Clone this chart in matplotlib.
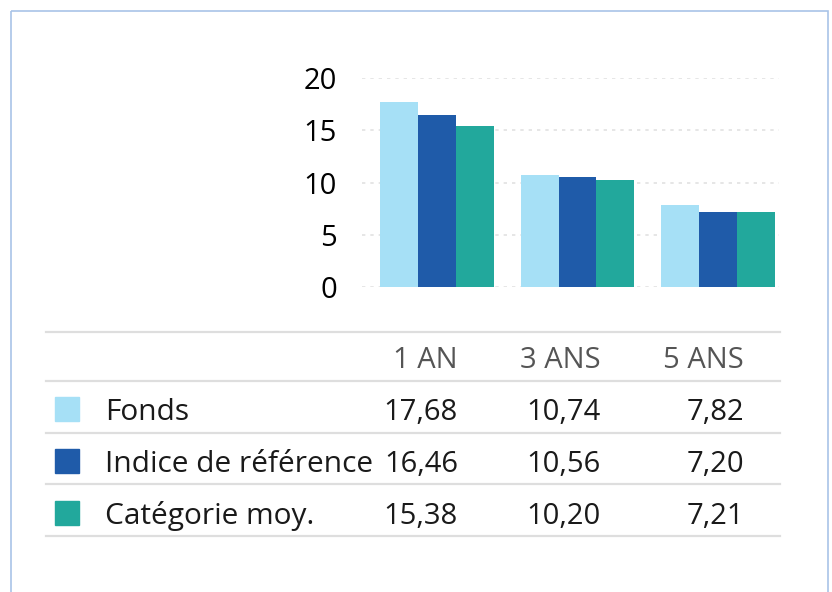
import matplotlib
matplotlib.use("Agg")
import matplotlib.pyplot as plt
import numpy as np

plt.rcParams["font.family"] = ["Open Sans", "DejaVu Sans"]

# data
periods = ["1 AN", "3 ANS", "5 ANS"]
series = ["Fonds", "Indice de référence", "Catégorie moy."]
fonds = [17.68, 10.74, 7.82]
indice = [16.46, 10.56, 7.20]
categorie = [15.38, 10.20, 7.21]
value_labels = [["17,68", "10,74", "7,82"],
                ["16,46", "10,56", "7,20"],
                ["15,38", "10,20", "7,21"]]
yticks = [0, 5, 10, 15, 20]

colors = ["#A6E0F6", "#1F5BA9", "#22A89C"]

W, H = 832, 592
fig = plt.figure(figsize=(W / 100, H / 100), dpi=100)

# overlay in pixel coordinates for frame and table
ov = fig.add_axes([0, 0, 1, 1])
ov.set_xlim(0, W)
ov.set_ylim(H, 0)
ov.axis("off")

ov.add_patch(plt.Rectangle((11, 11), 817, 600, fill=False, edgecolor="#A9C4E8", linewidth=1.2))

# bar chart
ax = fig.add_axes([362 / W, 1 - 287 / H, (779 - 362) / W, (287 - 78) / H])
x = np.arange(len(periods))
width = 0.27
for i, vals in enumerate([fonds, indice, categorie]):
    ax.bar(x + (i - 1) * width, vals, width, color=colors[i], zorder=3)

ax.set_xlim(-0.534, 2.434)
ax.set_ylim(0, 20)
ax.set_yticks(yticks)
ax.set_yticklabels([str(t) for t in yticks], fontsize=21, color="#000000")
ax.set_xticks([])
ax.tick_params(axis="y", length=0, pad=18)
for s in ax.spines.values():
    s.set_visible(False)
ax.grid(axis="y", color="#E2E2E2", linestyle=(0, (2, 3)), linewidth=1.2, zorder=0)
ax.set_facecolor("none")

# table
line_y = [332, 381, 433, 484, 536]
for yy in line_y:
    ov.plot([46, 780], [yy, yy], color="#DEDEDE", linewidth=1.6)

col_right = [458, 601, 744]
for j, p in enumerate(periods):
    ov.text(col_right[j], 368, p, ha="right", va="baseline", fontsize=21, color="#555555")

row_base = [420, 472, 524]
for i, name in enumerate(series):
    yb = row_base[i]
    ov.add_patch(plt.Rectangle((55, yb - 23), 24, 24, color=colors[i]))
    ov.text(105, yb, name, ha="left", va="baseline", fontsize=21.5, color="#1A1A1A")
    for j in range(len(periods)):
        ov.text(col_right[j], yb, value_labels[i][j], ha="right", va="baseline",
                fontsize=21, color="#1A1A1A")

fig.savefig("out.png", dpi=100)
